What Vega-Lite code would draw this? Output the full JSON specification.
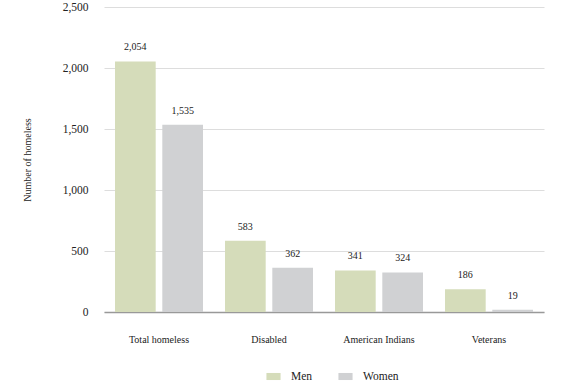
{
  "$schema": "https://vega.github.io/schema/vega-lite/v6.json",
  "width": 440,
  "height": 305,
  "autosize": {"type": "none"},
  "padding": {"left": 104, "top": 7, "right": 26, "bottom": 69},
  "background": "white",
  "config": {
    "font": "Liberation Serif",
    "view": {"stroke": null},
    "axis": {"labelFont": "Liberation Serif", "titleFont": "Liberation Serif"},
    "legend": {"labelFont": "Liberation Serif"},
    "text": {"font": "Liberation Serif"}
  },
  "data": {
    "values": [
      {"category": "Total homeless", "gender": "Men", "value": 2054},
      {"category": "Total homeless", "gender": "Women", "value": 1535},
      {"category": "Disabled", "gender": "Men", "value": 583},
      {"category": "Disabled", "gender": "Women", "value": 362},
      {"category": "American Indians", "gender": "Men", "value": 341},
      {"category": "American Indians", "gender": "Women", "value": 324},
      {"category": "Veterans", "gender": "Men", "value": 186},
      {"category": "Veterans", "gender": "Women", "value": 19}
    ]
  },
  "encoding": {
    "x": {
      "field": "category", "type": "nominal",
      "sort": ["Total homeless", "Disabled", "American Indians", "Veterans"],
      "scale": {"paddingInner": 0.2, "paddingOuter": 0.1},
      "axis": {
        "title": null, "labelAngle": 0, "ticks": false, "labelPadding": 22,
        "labelFontSize": 10, "labelColor": "#222", "domainColor": "#999", "domainWidth": 1.5
      }
    },
    "xOffset": {
      "field": "gender", "type": "nominal",
      "scale": {"paddingInner": 0.14}
    },
    "y": {
      "field": "value", "type": "quantitative",
      "scale": {"domain": [0, 2500]},
      "axis": {
        "title": "Number of homeless", "titleFontSize": 10, "titleFontWeight": "normal",
        "titleColor": "#222", "titlePadding": 30,
        "values": [0, 500, 1000, 1500, 2000, 2500], "format": ",.0f",
        "labelFontSize": 11.5, "labelColor": "#222", "labelPadding": 16,
        "ticks": false, "domain": false, "gridColor": "#dddddd"
      }
    }
  },
  "layer": [
    {
      "mark": {"type": "bar"},
      "encoding": {
        "color": {
          "field": "gender", "type": "nominal",
          "scale": {"domain": ["Men", "Women"], "range": ["#d5dcba", "#d0d1d3"]},
          "legend": {
            "title": null, "orient": "none", "direction": "horizontal",
            "legendX": 162, "legendY": 362,
            "symbolType": "M-1,-0.5H1V0.5H-1Z", "symbolSize": 200,
            "symbolStrokeWidth": 0, "labelFontSize": 11.5, "labelColor": "#222",
            "columnPadding": 25, "labelOffset": 10
          }
        }
      }
    },
    {
      "mark": {"type": "text", "dy": -14, "fontSize": 10, "color": "#222", "font": "Liberation Serif"},
      "encoding": {
        "text": {"field": "value", "type": "quantitative", "format": ",.0f"}
      }
    }
  ]
}
